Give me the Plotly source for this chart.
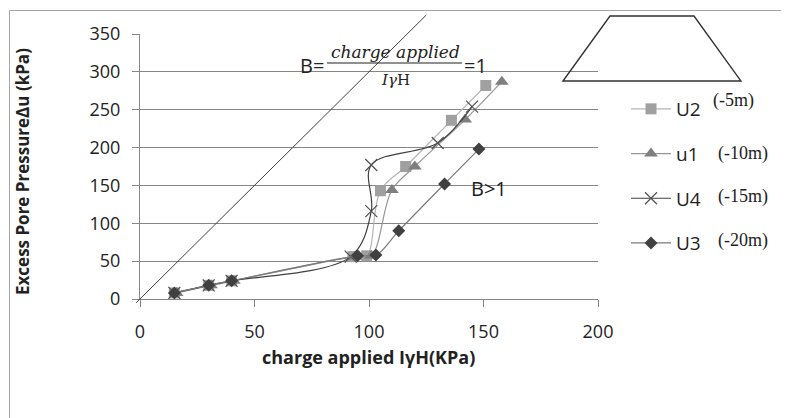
import plotly.graph_objects as go

# ---------------- data ----------------
U2_x = [15, 30, 40, 93, 99, 105, 116, 136, 151]
U2_y = [8, 18, 24, 56, 57, 143, 175, 236, 282]

u1_x = [16, 31, 41, 94, 101, 110, 120, 142, 158]
u1_y = [8, 18, 24, 56, 57, 144, 175, 237, 287]

U4_x = [15, 30, 40, 92, 101, 101, 130, 145]
U4_y = [8, 18, 24, 56, 116, 177, 206, 254]

U3_x = [15, 30, 40, 95, 103, 113, 133, 148]
U3_y = [8, 18, 24, 57, 58, 90, 152, 198]

B1_x = [-1.7, 125]
B1_y = [-5, 375]

x_ticks = [0, 50, 100, 150, 200]
y_ticks = [0, 50, 100, 150, 200, 250, 300, 350]

series_names = ["U2", "u1", "U4", "U3"]
depth_labels = ["(-5m)", "(-10m)", "(-15m)", "(-20m)"]

# ---------------- layout helpers ----------------
W, H = 789, 418
OFF = 8  # page offset of the figure inside the window


def pxx(px):
    return (px - OFF) / W


def pxy(py):
    return 1 - (py - OFF) / H


x_dom = [pxx(140), pxx(598)]
y_dom = [pxy(299), pxy(34)]
x_rng = [0, 200]
y_rng = [0, 350]

# second (invisible) subplot with same scale but wider range for the B=1 line
x2_rng = [-10, 200]
y2_rng = [-10, 380]
sx = (x_dom[1] - x_dom[0]) / (x_rng[1] - x_rng[0])
sy = (y_dom[1] - y_dom[0]) / (y_rng[1] - y_rng[0])
x2_dom = [x_dom[0] - (x_rng[0] - x2_rng[0]) * sx, x_dom[1]]
y2_dom = [y_dom[0] - (y_rng[0] - y2_rng[0]) * sy, min(1.0, y_dom[1] + (y2_rng[1] - y_rng[1]) * sy)]

grid_c = "#868686"
sans = "Open Sans"

fig = go.Figure()

fig.add_trace(go.Scatter(x=B1_x, y=B1_y, mode="lines", xaxis="x2", yaxis="y2",
                         line=dict(color="#404040", width=1), showlegend=False,
                         hoverinfo="skip"))

styles = [
    dict(symbol="square", color="#a0a0a0", line="#b4b4b4", size=11, lw=1.2),
    dict(symbol="triangle-up", color="#7f7f7f", line="#969696", size=12, lw=1.2),
    dict(symbol="x-thin", color="#505050", line="#404040", size=12, lw=1.2),
    dict(symbol="diamond", color="#404040", line="#7a7a7a", size=10, lw=1.2),
]
data = [(U2_x, U2_y), (u1_x, u1_y), (U4_x, U4_y), (U3_x, U3_y)]

for name, (xs, ys), st in zip(series_names, data, styles):
    if st["symbol"] == "x-thin":
        marker = dict(symbol="x-thin", size=st["size"], line=dict(color=st["color"], width=1.2))
    else:
        marker = dict(symbol=st["symbol"], size=st["size"], color=st["color"],
                      line=dict(width=0))
    fig.add_trace(go.Scatter(x=xs, y=ys, name=name, mode="lines+markers",
                             line=dict(color=st["line"], width=st["lw"], shape="spline", smoothing=1),
                             marker=marker, legendgroup=name))

fig.update_layout(
    width=W, height=H,
    margin=dict(l=0, r=0, t=0, b=0, autoexpand=False),
    paper_bgcolor="white", plot_bgcolor="rgba(0,0,0,0)",
    font=dict(family=sans, size=18, color="#222222"),
    showlegend=True,
    legend=dict(x=pxx(626), y=pxy(90), xanchor="left", yanchor="top",
                font=dict(family=sans, size=19, color="#222222"),
                tracegroupgap=17, bgcolor="rgba(0,0,0,0)", itemwidth=40),
    xaxis=dict(domain=x_dom, range=x_rng, tickvals=x_ticks, showgrid=False,
               showline=True, linecolor=grid_c, linewidth=1, ticks="outside",
               ticklen=7, tickcolor=grid_c, zeroline=False, ticklabelstandoff=9,
               tickfont=dict(family=sans, size=18), anchor="y", automargin=False),
    yaxis=dict(domain=y_dom, range=y_rng, tickvals=y_ticks, showgrid=True,
               gridcolor=grid_c, gridwidth=1, showline=True, linecolor=grid_c,
               linewidth=1, ticks="outside", ticklen=7, tickcolor=grid_c,
               zeroline=False, ticklabelstandoff=8,
               tickfont=dict(family=sans, size=18), anchor="x", automargin=False),
    xaxis2=dict(domain=x2_dom, range=x2_rng, visible=False, anchor="y2", automargin=False),
    yaxis2=dict(domain=y2_dom, range=y2_rng, visible=False, anchor="x2", automargin=False),
)

# chart-area border
fig.add_shape(type="rect", xref="paper", yref="paper",
              x0=pxx(9.5), x1=pxx(820), y0=pxy(440), y1=pxy(10.5),
              line=dict(color="#a6a6a6", width=1), fillcolor="rgba(0,0,0,0)")

# trapezoid (embankment sketch)
p = [(563, 81), (610, 16), (694, 16), (741, 81)]
path = "M {} {} L {} {} L {} {} L {} {} Z".format(
    *[v for pt in p for v in (pxx(pt[0]), pxy(pt[1]))])
fig.add_shape(type="path", xref="paper", yref="paper", path=path,
              line=dict(color="#303030", width=1.3), fillcolor="rgba(0,0,0,0)")

# fraction bar
fig.add_shape(type="line", xref="paper", yref="paper",
              x0=pxx(327), x1=pxx(462), y0=pxy(63), y1=pxy(63),
              line=dict(color="#222222", width=1.2))

ann = [
    dict(text="B=", x=pxx(312), y=pxy(66), font=dict(family=sans, size=20)),
    dict(text="<i>charge applied</i>", x=pxx(395), y=pxy(52),
         font=dict(family="DejaVu Serif", size=17)),
    dict(text="<i>Iγ</i>H", x=pxx(395), y=pxy(80), font=dict(family="DejaVu Serif", size=15)),
    dict(text="=1", x=pxx(476), y=pxy(66), font=dict(family=sans, size=20)),
    dict(text="B>1", x=pxx(489), y=pxy(188), font=dict(family=sans, size=20)),
    dict(text="<b>charge applied IγH(KPa)</b>", x=pxx(368), y=pxy(357),
         font=dict(family=sans, size=18)),
    dict(text="<b>Excess Pore PressureΔu (kPa)</b>", x=pxx(22), y=pxy(172),
         textangle=-90, font=dict(family=sans, size=17)),
]
dl_pos = [(733, 100), (743, 153), (743, 196), (743, 240)]
for lab, (ax_, ay_) in zip(depth_labels, dl_pos):
    ann.append(dict(text=lab, x=pxx(ax_), y=pxy(ay_),
                    font=dict(family="Liberation Serif", size=18)))
for a in ann:
    a.update(xref="paper", yref="paper", showarrow=False, xanchor="center", yanchor="middle")
    a.setdefault("font", {})
    a["font"].setdefault("color", "#222222")
    fig.add_annotation(**a)

fig.write_html("out.html")
